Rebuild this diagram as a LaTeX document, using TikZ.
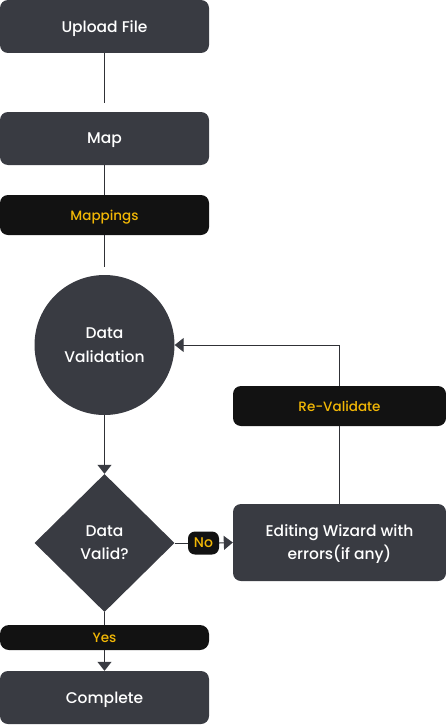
\documentclass[tikz,border=0pt]{standalone}
\usepackage{fontspec}
\setmainfont{Poppins}[UprightFont=* Medium]
\usetikzlibrary{shapes.geometric,arrows.meta}

\definecolor{boxgray}{HTML}{393B42}
\definecolor{tagblack}{HTML}{121212}
\definecolor{tagyellow}{HTML}{F2B705}
\definecolor{linegray}{HTML}{303136}

\tikzset{
  stepbox/.style={rectangle, rounded corners=8pt, fill=boxgray, text=white,
    minimum width=209pt, minimum height=53pt, inner sep=0pt, text depth=-1pt,
    font=\fontsize{15.5}{24}\selectfont, align=center},
  tagbox/.style={rectangle, rounded corners=8pt, fill=tagblack, text=tagyellow,
    minimum width=209pt, minimum height=40pt, inner sep=0pt, text depth=0pt,
    font=\fontsize{13.5}{15}\selectfont},
  link/.style={draw=linegray, line width=1pt},
  tip/.style={link, -{Triangle[width=14pt,length=9pt,color=boxgray]}}
}

\begin{document}
\begin{tikzpicture}[x=1pt, y=-1pt]
        \useasboundingbox (0,0) rectangle (446,725);

        \node [stepbox] (upload) at (104.5, 26.5) {Upload File};
        \node [stepbox] (map) at (104.5, 138.5) {Map};
        \node [tagbox] (mappings) at (104.5, 215) {Mappings};

        \node [circle, fill=boxgray, text=white, minimum size=140pt, inner sep=0pt, text depth=-4pt,
          align=center, font=\fontsize{15.5}{24}\selectfont] (validation) at (104.5, 345)
          {Data\\Validation};

        \node [diamond, fill=boxgray, text=white, minimum width=140pt, minimum height=138pt,
          inner sep=0pt, text depth=-3pt, align=center, font=\fontsize{15.5}{23}\selectfont] (valid) at (104.5, 543)
          {Data\\Valid?};

        \node [tagbox, minimum width=31pt, minimum height=23pt, rounded corners=7pt,
          font=\fontsize{14}{15}\selectfont] (no) at (203.5, 543) {No};

        \node [stepbox, minimum width=213pt, minimum height=77pt, text depth=-5pt,
          font=\fontsize{15.5}{23}\selectfont]
          (wizard) at (339.5, 542.5) {Editing Wizard with\\errors(if any)};

        \node [tagbox, minimum width=213pt] (revalidate) at (339.5, 406) {Re-Validate};

        \node [tagbox, minimum height=25pt, rounded corners=9pt] (yes) at (104.5, 637.5) {Yes};
        \node [stepbox] (complete) at (104.5, 697.5) {Complete};

        % main line
        \draw [link] (upload.south) -- (104.5, 103);
        \draw [link] (map.south) -- (mappings.north);
        \draw [link] (mappings.south) -- (104.5, 267);
        \draw [tip] (validation.south) -- (valid.north);

        % yes / no
        \draw [link] (valid.south) -- (yes.north);
        \draw [tip] (yes.south) -- (complete.north);
        \draw [link] (valid.east) -- (no.west);
        \draw [tip] (no.east) -- (wizard.west);

        % loop back
        \draw [link] (wizard.north) -- (revalidate.south);
        \draw [tip] (revalidate.north) |- (validation.east);
\end{tikzpicture}
\end{document}
